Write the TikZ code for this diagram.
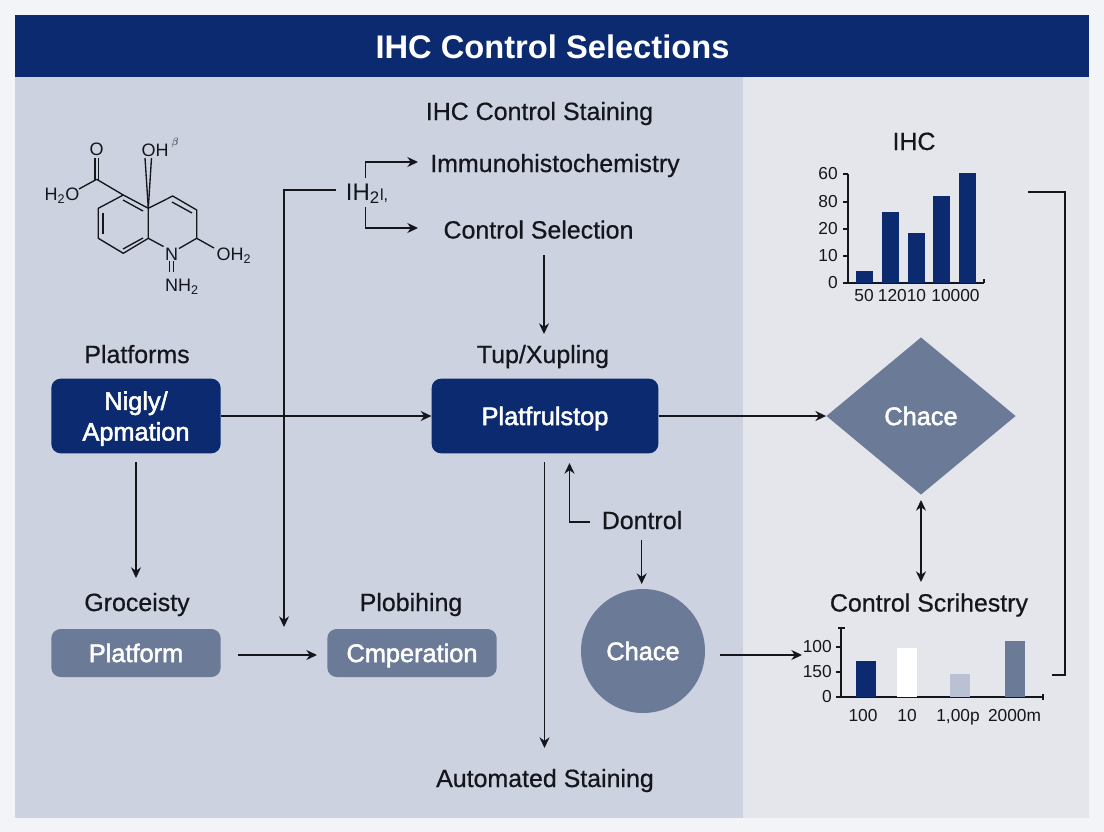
\documentclass[tikz,border=0pt]{standalone}
\usepackage{fontspec}
\setmainfont{Liberation Sans}
\newfontfamily\medfont[FakeBold=0.6]{Liberation Sans}
\newfontfamily\boxfont[FakeBold=2]{Liberation Sans}
\usetikzlibrary{arrows.meta,shapes.geometric}
\definecolor{navy}{HTML}{0B2A70}
\definecolor{slate}{HTML}{6B7A96}
\definecolor{panelL}{HTML}{CCD2E0}
\definecolor{panelR}{HTML}{E4E6EC}
\definecolor{pageBg}{HTML}{F3F4F7}
\definecolor{ink}{HTML}{14161C}
\definecolor{paleBar}{HTML}{B9C1D2}
\tikzset{
  x=0.75pt,y=-0.75pt,
  lab/.style={font=\medfont\fontsize{18.7}{20}\selectfont,text=ink,inner sep=0pt,anchor=base},
  tick/.style={font=\fontsize{13}{14}\selectfont,text=ink,inner sep=0pt},
  atom/.style={font=\fontsize{13.5}{14}\selectfont,text=ink,inner sep=0pt},
  conn/.style={draw=ink,line width=1.1pt,-{Stealth[length=8pt,width=7.5pt]}},
  plain/.style={draw=ink,line width=1.1pt},
  both/.style={draw=ink,line width=1.1pt,{Stealth[length=8pt,width=7.5pt]}-{Stealth[length=8pt,width=7.5pt]}},
  bond/.style={draw=ink,line width=1pt},
  boxtext/.style={text=white,font=\boxfont\fontsize{19}{20}\selectfont,inner sep=0pt},
  navybox/.style={rounded corners=7pt,fill=navy,boxtext,align=center,minimum height=56pt,text depth=0pt},
  slatebox/.style={rounded corners=7pt,fill=slate,boxtext,minimum height=36pt,text height=13.5pt,text depth=0pt},
  axis/.style={draw=ink,line width=1.1pt},
}
\begin{document}
\begin{tikzpicture}
\useasboundingbox (0,0) rectangle (1104,832);
\fill[pageBg] (0,0) rectangle (1104,832);
\fill[panelL] (15,77) rectangle (743,818);
\fill[panelR] (743,77) rectangle (1089,818);
\fill[navy] (15,15) rectangle (1089,77);
\node[font=\bfseries\fontsize{24.5}{28}\selectfont,text=white,inner sep=0pt] (title) at (552.5,47) {IHC Control Selections};

% chemical structure
\node[atom] (oa) at (96.5,149.5) {O};
\node[atom] (hto) at (62,196) {H\textsubscript{2}O};
\node[atom] (oh) at (155,150) {OH};
\node[font=\fontsize{8.5}{9}\selectfont,text=ink,inner sep=0pt] (beta) at (175,143) {$\beta$};
\node[atom] (ohr) at (234,256) {OH\textsubscript{2}};
\node[atom] (na) at (171.5,254) {N};
\node[atom] (nh) at (182,287) {NH\textsubscript{2}};
\coordinate (a1) at (148.3,208.3);
\coordinate (a2) at (148.3,238.3);
\coordinate (a3) at (123.3,253.3);
\coordinate (a4) at (98.3,238.3);
\coordinate (a5) at (98.3,208.3);
\coordinate (a6) at (123.3,195);
\coordinate (b1) at (172.7,196);
\coordinate (b2) at (196.7,210);
\coordinate (b3) at (196.7,238.3);
\coordinate (cc) at (96.7,179.3);
\draw[bond,line join=round] (a1)--(a2)--(a3)--(a4)--(a5)--(a6)--(a1)--(b1)--(b2)--(b3);
\draw[bond] (a2)--(163.5,246.5);
\draw[bond] (b3)--(179,248.5);
\draw[bond] (b3)--(214,248);
\draw[bond] (a6)--(cc);
\draw[bond] (cc)--(79,189);
\draw[bond] (95,179.5)--(95,158);
\draw[bond] (98.5,179.5)--(98.5,158);
\draw[bond] (103,234)--(103,213);
\draw[bond] (123,249)--(143,238);
\draw[bond] (123,200)--(143,211);
\draw[bond] (172,202)--(192,213);
\draw[bond] (a1)--(145,158);
\draw[bond] (a1)--(151.5,158);
\draw[bond] (169.5,261)--(169.5,272);
\draw[bond] (173.5,261)--(173.5,272);

% top centre labels
\node[lab] (staining) at (539.5,120) {IHC Control Staining};
\node[lab] (immuno) at (555,172) {Immunohistochemistry};
\node[lab] (csel) at (538.5,238.5) {Control Selection};
\node[lab,font=\fontsize{18}{20}\selectfont] (iht) at (367,200) {IH\textsubscript{2}\raisebox{0pt}{\fontsize{12}{12}\selectfont l,}};
\coordinate (bu) at (365.5,178);
\coordinate (bd) at (365.5,207);
\coordinate (bl) at (336,190);
\coordinate (blend) at (284,627);
\draw[conn] (bu) |- (418,162);
\draw[conn] (bd) |- (418,228);
\draw[conn] (bl) -| (blend);

% row 2
\node[lab] (plats) at (137,363) {Platforms};
\node[lab] (tup) at (543,363) {Tup/Xupling};
\node[navybox,minimum width=127pt] (nigly) at (136,416) {Nigly/\\[3pt]Apmation};
\node[navybox,minimum width=170pt,text height=13.5pt] (plat) at (545,416) {Platfrulstop};
\node[diamond,fill=slate,minimum width=142pt,minimum height=118pt,inner sep=0pt,boxtext,aspect=1.2] (dia) at (921,416) {Chace};
\coordinate (csb) at (544,255);
\coordinate (tupt) at (544,334);
\draw[conn] (csb) -- (tupt);
\draw[conn] (nigly.east) -- (plat.west);
\draw[conn] (plat.east) -- (dia.west);

% row 3
\node[lab] (groc) at (137,611) {Groceisty};
\node[lab] (plob) at (411,611) {Plobihing};
\node[lab] (dont) at (642,529) {Dontrol};
\node[lab] (ctrl) at (929,611.5) {Control Scrihestry};
\node[slatebox,minimum width=127pt] (pf) at (136,653) {Platform};
\node[slatebox,minimum width=127pt] (cmp) at (412,653) {Cmperation};
\node[circle,fill=slate,minimum size=93pt,inner sep=0pt,boxtext] (circ) at (643,651) {Chace};
\node[lab] (auto) at (545,787) {Automated Staining};
\coordinate (n1) at (136,462);
\coordinate (n2) at (136,578);
\coordinate (p1) at (238,655);
\coordinate (p2) at (317,655);
\coordinate (q1) at (720,655);
\coordinate (q2) at (802,655);
\coordinate (d1) at (590,522);
\coordinate (d2) at (569.5,463);
\coordinate (d3) at (641.7,540);
\coordinate (d4) at (641.7,584);
\coordinate (s1) at (544.5,462);
\coordinate (s2) at (544.5,748);
\coordinate (t1) at (921,500);
\coordinate (t2) at (921,582);
\draw[conn] (n1) -- (n2);
\draw[conn] (p1) -- (p2);
\draw[conn] (q1) -- (q2);
\draw[conn] (d1) -| (d2);
\draw[conn] (d3) -- (d4);
\draw[conn] (s1) -- (s2);
\draw[both] (t1) -- (t2);

% right bracket
\coordinate (r1) at (1028,192);
\coordinate (r2) at (1065,192);
\coordinate (r3) at (1065,675);
\coordinate (r4) at (1052,675);
\draw[plain] (r1) -- (r2) -- (r3) -- (r4);

% top chart
\node[lab] (ihc) at (914,150) {IHC};
\draw[axis] (848,174) -- (848,283) -- (984,283);
\foreach \y/\t in {174/60,202/80,229/20,256/10,283/0}{
  \draw[axis] (848,\y) -- (843,\y);
  \node[tick,anchor=east] at (838,\y) {\t};
}
\draw[axis] (984,279) -- (984,283);
\foreach \xa/\ya in {856/271,882/212,908/233,933/196,959/173}{
  \fill[navy] (\xa,\ya) rectangle +(17,283-\ya);
}
\node[tick] (ta) at (864,296) {50};
\node[tick] (tb) at (902,296) {12010};
\node[tick] (tc) at (955.5,296) {10000};

% bottom chart
\draw[axis] (841,628) -- (841,697) -- (1043,697);
\draw[axis] (838,628) -- (845,628);
\draw[axis] (1043,694) -- (1043,700);
\foreach \y/\t in {647/100,672/150,697/0}{
  \draw[axis] (841,\y) -- (836,\y);
  \node[tick,anchor=east] at (832,\y) {\t};
}
\fill[navy] (856,661) rectangle (876,696.5);
\fill[white] (897,648) rectangle (917,696.5);
\fill[paleBar] (950,674) rectangle (970,696.5);
\fill[slate] (1005,641) rectangle (1025,696.5);
\node[tick] (ua) at (863,716) {100};
\node[tick] (ub) at (907,716) {10};
\node[tick,anchor=base] (uc) at (958,721) {1,00p};
\node[tick] (ud) at (1014.5,716) {2000m};
\end{tikzpicture}
\end{document}
